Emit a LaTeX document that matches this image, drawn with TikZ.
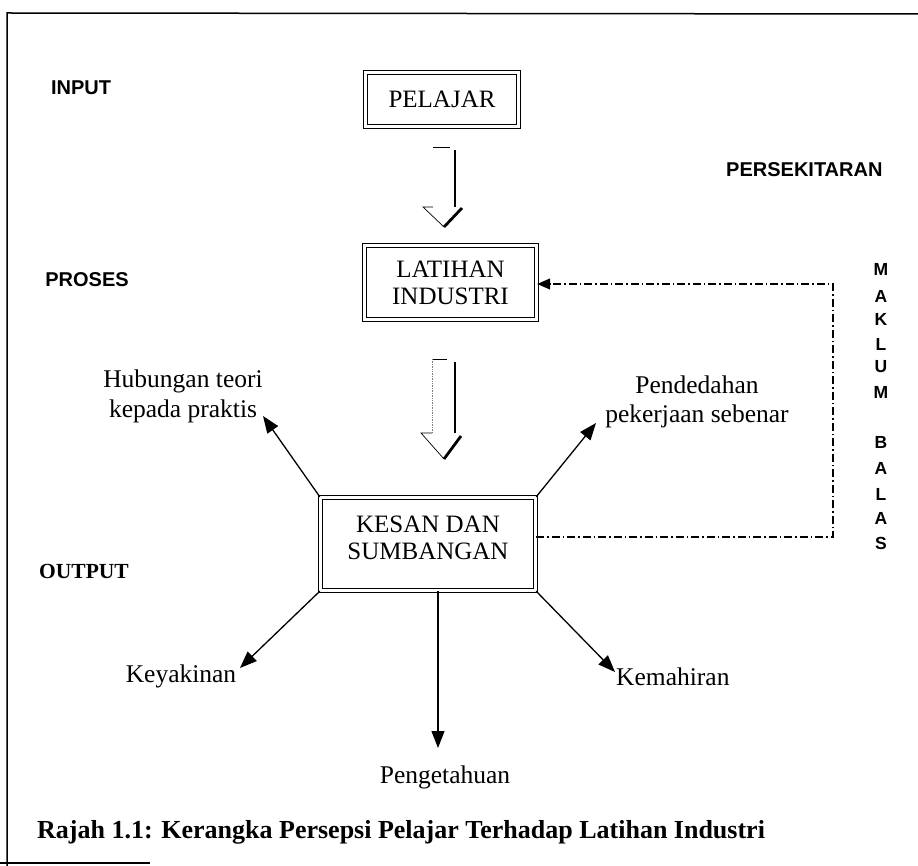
\documentclass[tikz,border=0pt]{standalone}
\usepackage{fontspec}
\setmainfont{Liberation Serif}
\setsansfont{Liberation Sans}
\usetikzlibrary{arrows.meta,calc}
\begin{document}
\begin{tikzpicture}[x=1pt,y=-1pt,
  box/.style={draw, line width=1.4pt, double, double distance=2.2pt, inner sep=0pt},
  boxtxt/.style={font=\fontsize{25}{27}\selectfont, align=center, inner sep=0pt},
  lbl/.style={font=\fontsize{25.5}{29}\selectfont, inner sep=0pt},
  side/.style={font=\sffamily\bfseries\fontsize{20}{24}\selectfont, inner sep=0pt},
  vlet/.style={font=\sffamily\bfseries\fontsize{17.5}{20}\selectfont, inner sep=0pt},
  arr/.style={line width=1.3pt, -{Triangle[length=17pt,width=13pt]}},
  fb/.style={line width=1.1pt, dash pattern=on 8pt off 3pt on 1.5pt off 3pt, -{Triangle[length=13pt,width=11pt]}},
  hthin/.style={line width=0.7pt},
  hthick/.style={line width=2.8pt},
]
\useasboundingbox (0,0) rectangle (918,866);
\fill[white] (0,0) rectangle (918,866);
% frame
\draw[line width=1.5pt] (918,14) -- (7,13) -- (7,866);
\draw[line width=1.5pt] (0,863) -- (150,863);
% boxes
\node[box, boxtxt, minimum width=153pt, minimum height=54pt] (pel) at (442,99.5) {PELAJAR};
\node[box, boxtxt, minimum width=172pt, minimum height=74pt] (lat) at (450.5,282.5) {LATIHAN\\INDUSTRI};
\node[box, minimum width=215pt, minimum height=93pt] (kes) at (428,544) {};
\node[boxtxt] (kest) at (428,537.5) {KESAN DAN\\SUMBANGAN};
% hollow arrow 1
\draw[hthin] (433,147) -- (450,147);
\draw[hthin] (433,207) -- (423,207) -- (444,227);
\draw[hthick] (455,150) -- (455,207);
\draw[hthick] (444,227) -- (462,208);
% hollow arrow 2
\draw[hthin] (432,359) -- (447,359);
\draw[hthin, densely dotted, gray] (432,359) -- (432,433);
\draw[hthin] (432,433) -- (421,433) -- (444,459);
\draw[hthick] (455,362) -- (455,433);
\draw[hthick] (444,459) -- (461,436);
% connector ends
\coordinate (tHub) at (263,416);
\coordinate (tPen) at (596,423);
\coordinate (tKey) at (240,668);
\coordinate (tKem) at (615,672);
\coordinate (tPeng) at (438,748);
\coordinate (fbA) at (833,537);
\coordinate (fbB) at (833,284);
\draw[arr] (kes.north west) -- (tHub);
\draw[arr] (kes.north east) -- (tPen);
\draw[arr] (kes.south west) -- (tKey);
\draw[arr] (kes.south east) -- (tKem);
\draw[arr] (kes.south -| tPeng) -- (tPeng);
\draw[fb] (kes.east |- fbA) -- (fbA) -- (fbB) -- (lat.east |- fbB);
% side labels
\node[side] (inp) at (81,88) {INPUT};
\node[side] (pro) at (87,280) {PROSES};
\node[font=\bfseries\fontsize{21.5}{24}\selectfont, inner sep=0pt] (out) at (84,571) {OUTPUT};
\node[side, anchor=west] (pers) at (726,170) {PERSEKITARAN};
\foreach \l/\yy [count=\i] in {M/269, A/296, K/319, L/344, U/367, M/392, B/442, A/468, L/494, A/518, S/543}
  \node[vlet] (mb\i) at (881,\yy) {\l};
% text labels
\node[lbl, anchor=base] (hub1) at (183,388) {Hubungan teori};
\node[lbl, anchor=base] (hub2) at (183,417) {kepada praktis};
\node[lbl, anchor=base] (pend1) at (697,393) {Pendedahan};
\node[lbl, anchor=base] (pend2) at (697,422) {pekerjaan sebenar};
\node[lbl, anchor=base] (key) at (181,682) {Keyakinan};
\node[lbl, anchor=base west] (kem) at (616,685) {Kemahiran};
\node[lbl, anchor=base] (peng) at (445,783) {Pengetahuan};
\node[font=\bfseries\fontsize{26}{30}\selectfont, inner sep=0pt, anchor=base west] (cap) at (37,838) {Rajah 1.1: Kerangka Persepsi Pelajar Terhadap Latihan Industri};
\end{tikzpicture}
\end{document}
